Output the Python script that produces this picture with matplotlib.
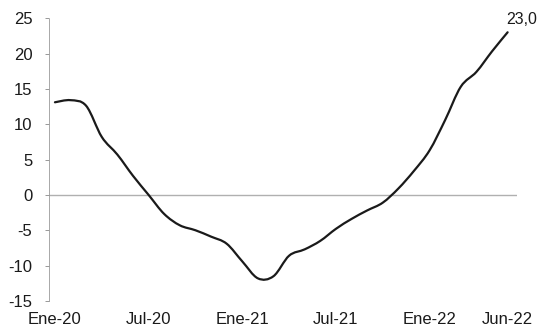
import numpy as np
import matplotlib
matplotlib.use("Agg")
import matplotlib.pyplot as plt
from matplotlib.path import Path
from matplotlib.patches import PathPatch

plt.rcParams["font.family"] = ["Liberation Sans", "DejaVu Sans"]

# ---------------------------------------
# Data (monthly, Ene-20 .. Jun-22)
# ---------------------------------------

months = list(range(30))
values = [
    13.1, 13.4, 12.6, 8.2, 5.7, 2.7, 0.0, -2.7, -4.3, -5.0,
    -5.9, -6.9, -9.4, -11.8, -11.5, -8.6, -7.7, -6.5, -4.8, -3.4,
    -2.2, -1.1, 0.9, 3.4, 6.3, 10.6, 15.3, 17.4, 20.3, 23.0,
]
tick_pos = [0, 6, 12, 18, 24, 29]
tick_labels = ["Ene-20", "Jul-20", "Ene-21", "Jul-21", "Ene-22", "Jun-22"]
y_ticks = [-15, -10, -5, 0, 5, 10, 15, 20, 25]
last_label = "23,0"


def smooth_path(x, y, k=1 / 6):
    # Excel-style smoothed line: cubic Bezier segments through every point
    x = np.asarray(x, float)
    y = np.asarray(y, float)
    verts = [(x[0], y[0])]
    codes = [Path.MOVETO]
    n = len(x)
    for i in range(n - 1):
        p0 = i - 1 if i > 0 else i
        p3 = i + 2 if i + 2 < n else i + 1
        c1 = (x[i] + (x[i + 1] - x[p0]) * k, y[i] + (y[i + 1] - y[p0]) * k)
        c2 = (x[i + 1] - (x[p3] - x[i]) * k, y[i + 1] - (y[p3] - y[i]) * k)
        verts += [c1, c2, (x[i + 1], y[i + 1])]
        codes += [Path.CURVE4] * 3
    return Path(verts, codes)


# ---------------------------------------
# Plot
# ---------------------------------------

fig = plt.figure(figsize=(5.41, 3.30), dpi=100)
ax = fig.add_axes([0.0906, 0.088, 0.865, 0.857])

ax.axhline(0, color="#b0b0b0", linewidth=1.0, zorder=1)

ax.add_patch(PathPatch(smooth_path(months, values), facecolor="none",
                       edgecolor="#1a1a1a", linewidth=1.6,
                       joinstyle="round", capstyle="round", zorder=3))

ax.annotate(last_label, (months[-1], values[-1]),
            xytext=(-1, 4), textcoords="offset points",
            ha="left", va="bottom", fontsize=11.5, color="#1a1a1a")

ax.set_xlim(-0.38, 29.6)
ax.set_ylim(-15, 25)

ax.set_yticks(y_ticks)
ax.set_yticklabels([str(v) for v in y_ticks])
ax.set_xticks(tick_pos)
ax.set_xticklabels(tick_labels)

ax.tick_params(axis="y", length=3, width=0.6, color="#888888",
               labelsize=12, pad=9, labelcolor="#1a1a1a")
ax.tick_params(axis="x", length=0, labelsize=12, pad=8,
               labelcolor="#1a1a1a")

for side in ["top", "right", "bottom"]:
    ax.spines[side].set_visible(False)
ax.spines["left"].set_color("#9a9a9a")
ax.spines["left"].set_linewidth(0.6)
ax.spines["left"].set_linestyle((0, (4, 1)))

plt.savefig("out.png", dpi=100)
